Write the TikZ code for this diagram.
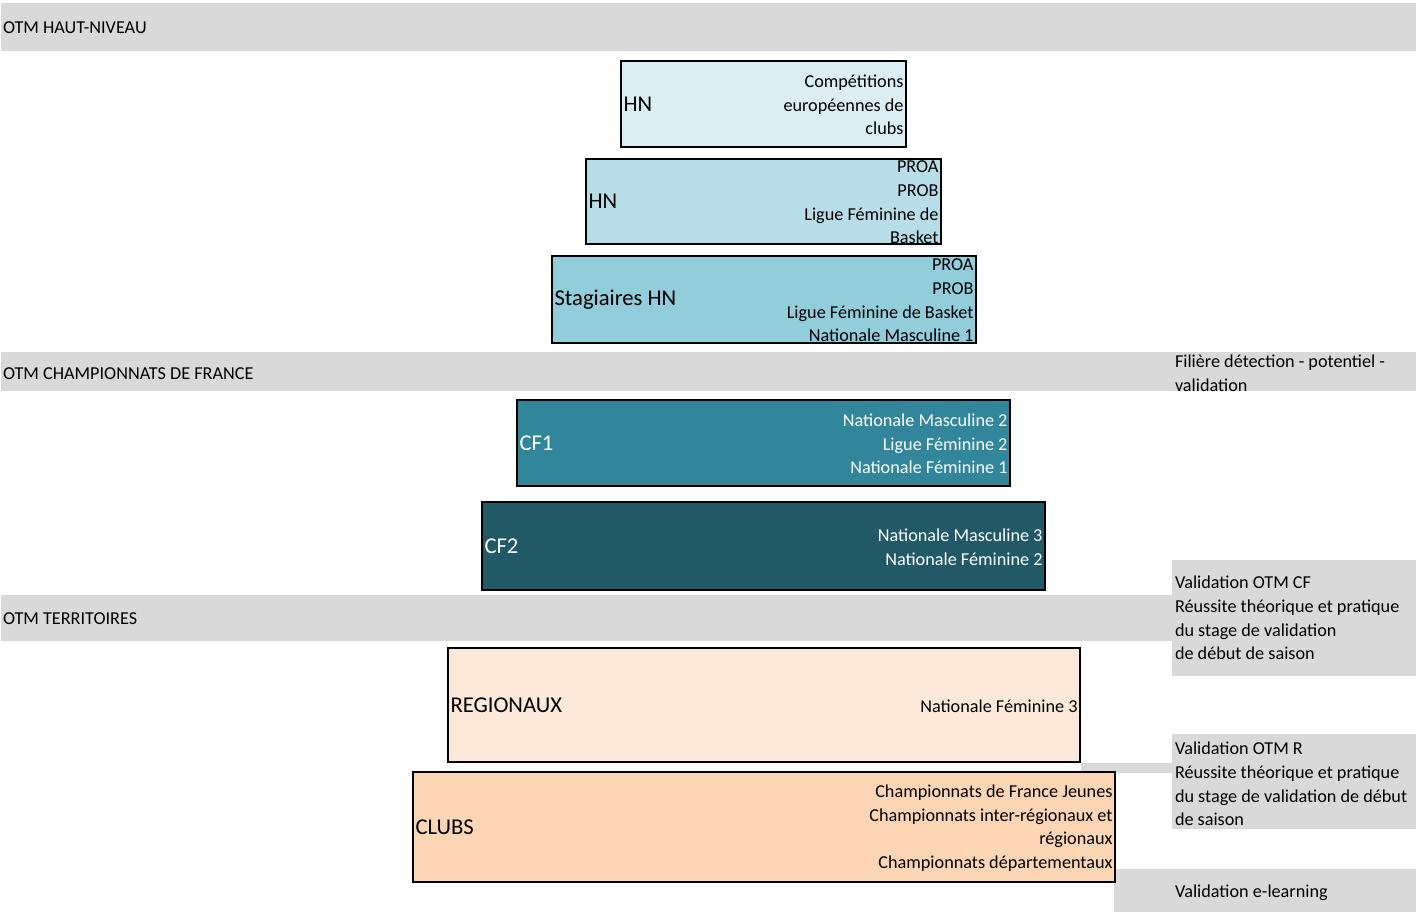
\documentclass[tikz,border=0pt]{standalone}
\usepackage{fontspec}
\setmainfont{Carlito}
\definecolor{bandgray}{HTML}{D9D9D9}
\definecolor{hnA}{HTML}{DAEEF3}
\definecolor{hnB}{HTML}{B7DEE8}
\definecolor{hnC}{HTML}{92CDDC}
\definecolor{cfA}{HTML}{31869B}
\definecolor{cfB}{HTML}{215967}
\definecolor{rgA}{HTML}{FDE9D9}
\definecolor{rgB}{HTML}{FCD5B4}
\begin{document}
\begin{tikzpicture}[x=1pt,y=-1pt,
  band/.style={fill=bandgray, draw=none},
  box/.style={draw=black, line width=2pt, inner sep=0pt, outer sep=0pt},
  small/.style={font=\fontsize{18.2}{23.7}\selectfont, inner sep=0pt, outer sep=0pt},
  big/.style={font=\fontsize{22.6}{26}\selectfont, inner sep=0pt, outer sep=0pt, anchor=west},
  lab/.style={small, anchor=west},
  rlist/.style={small, align=right, anchor=east, yshift=-1pt},
  llist/.style={small, align=left, anchor=north west},
]
\useasboundingbox (0,0) rectangle (1416,912);
% grey bands
\path[band] (1,3) rectangle (1416,51);
\path[band] (1,352) rectangle (1416,391);
\path[band] (1,595) rectangle (1416,641);
\path[band] (1172,560) rectangle (1416,676);
\path[band] (1081,763) rectangle (1172,773);
\path[band] (1172,734) rectangle (1416,829);
\path[band] (1114,869) rectangle (1416,912);
% band labels
\node[lab] (l1) at (3,28) {OTM HAUT-NIVEAU};
\node[lab] (l2) at (3,374) {OTM CHAMPIONNATS DE FRANCE};
\node[lab] (l3) at (3,619) {OTM TERRITOIRES};
\node[llist] (r1) at (1175,355) {Filière détection - potentiel -\\validation};
\node[llist] (r2) at (1175,576) {Validation OTM CF\\Réussite théorique et pratique\\du stage de validation\\de début de saison};
\node[llist] (r3) at (1175,742) {Validation OTM R\\Réussite théorique et pratique\\du stage de validation de début\\de saison};
\node[lab] (r4) at (1175,892.5) {Validation e-learning};
% boxes
\node[box, fill=hnA, minimum width=285pt, minimum height=86pt] (hn1) at (763.5,104) {};
\node[box, fill=hnB, minimum width=355pt, minimum height=85pt] (hn2) at (763.5,201.5) {};
\node[box, fill=hnC, minimum width=424pt, minimum height=87pt] (stg) at (764,299.5) {};
\node[box, fill=cfA, minimum width=493pt, minimum height=86pt] (cf1) at (763.5,443) {};
\node[box, fill=cfB, minimum width=563pt, minimum height=88pt] (cf2) at (763.5,546) {};
\node[box, fill=rgA, minimum width=632pt, minimum height=114pt] (reg) at (764,705) {};
\node[box, fill=rgB, minimum width=702pt, minimum height=110pt] (clb) at (764,827) {};
% box titles
\node[big] (hn1t) at ([xshift=2.5pt]hn1.west) {HN};
\node[big] (hn2t) at ([xshift=2.5pt]hn2.west) {HN};
\node[big] (stgt) at ([xshift=2.5pt]stg.west) {Stagiaires HN};
\node[big, text=white] (cf1t) at ([xshift=2.5pt]cf1.west) {CF1};
\node[big, text=white] (cf2t) at ([xshift=2.5pt]cf2.west) {CF2};
\node[big] (regt) at ([xshift=2.5pt]reg.west) {REGIONAUX};
\node[big] (clbt) at ([xshift=2.5pt]clb.west) {CLUBS};
% box lists
\node[rlist] (hn1l) at ([xshift=-2.5pt]hn1.east) {Compétitions\\européennes de\\clubs};
\node[rlist] (hn2l) at ([xshift=-2.5pt]hn2.east) {PROA\\PROB\\Ligue Féminine de\\Basket};
\node[rlist] (stgl) at ([xshift=-2.5pt]stg.east) {PROA\\PROB\\Ligue Féminine de Basket\\Nationale Masculine 1};
\node[rlist, text=white] (cf1l) at ([xshift=-2.5pt]cf1.east) {Nationale Masculine 2\\Ligue Féminine 2\\Nationale Féminine 1};
\node[rlist, text=white] (cf2l) at ([xshift=-2.5pt]cf2.east) {Nationale Masculine 3\\Nationale Féminine 2};
\node[rlist] (regl) at ([xshift=-2.5pt]reg.east) {Nationale Féminine 3};
\node[rlist] (clbl) at ([xshift=-2.5pt]clb.east) {Championnats de France Jeunes\\Championnats inter-régionaux et\\régionaux\\Championnats départementaux};
\end{tikzpicture}
\end{document}
